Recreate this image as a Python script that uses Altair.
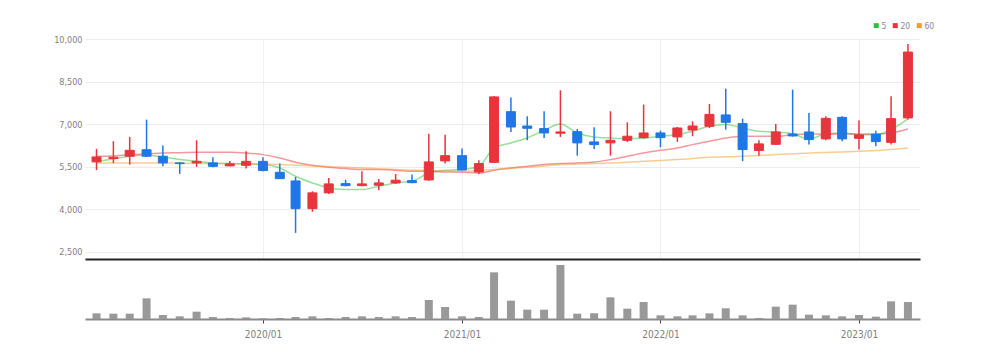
import altair as alt
import pandas as pd

months = [
    "2019-03-01", "2019-04-01", "2019-05-01", "2019-06-01", "2019-07-01", "2019-08-01",
    "2019-09-01", "2019-10-01", "2019-11-01", "2019-12-01",
    "2020-01-01", "2020-02-01", "2020-03-01", "2020-04-01", "2020-05-01", "2020-06-01",
    "2020-07-01", "2020-08-01", "2020-09-01", "2020-10-01", "2020-11-01", "2020-12-01",
    "2021-01-01", "2021-02-01", "2021-03-01", "2021-04-01", "2021-05-01", "2021-06-01",
    "2021-07-01", "2021-08-01", "2021-09-01", "2021-10-01", "2021-11-01", "2021-12-01",
    "2022-01-01", "2022-02-01", "2022-03-01", "2022-04-01", "2022-05-01", "2022-06-01",
    "2022-07-01", "2022-08-01", "2022-09-01", "2022-10-01", "2022-11-01", "2022-12-01",
    "2023-01-01", "2023-02-01", "2023-03-01", "2023-04-01",
]
open_ = [5670, 5790, 5870, 6100, 5870, 5635, 5635, 5635, 5530, 5550,
         5690, 5305, 5000, 4025, 4580, 4905, 4835, 4850, 4930, 5010, 5035, 5705,
         5890, 5315, 5655, 7440, 6935, 6845, 6680, 6735, 6375, 6340, 6430, 6525,
         6690, 6550, 6795, 6925, 7325, 7020, 6070, 6290, 6655, 6725, 6480, 7240,
         6500, 6645, 6360, 7220]
high = [6130, 6400, 6550, 7160, 6245, 5660, 6430, 5835, 5705, 6045,
        5835, 5610, 5140, 4635, 5105, 5045, 5340, 5070, 5245, 5225, 6665, 6630,
        6140, 5730, 7980, 7935, 7275, 7455, 8195, 6830, 6890, 7455, 7065, 7690,
        6770, 6900, 7100, 7710, 8250, 7195, 6430, 7005, 8215, 7395, 7275, 7275,
        7125, 6770, 7980, 9825]
low = [5380, 5630, 5575, 5845, 5515, 5250, 5495, 5480, 5515, 5435,
       5340, 5070, 3170, 3910, 4540, 4810, 4810, 4670, 4895, 4920, 5010, 5610,
       5365, 5245, 5635, 6725, 6430, 6515, 6550, 5890, 6125, 5890, 6375, 6490,
       6185, 6375, 6575, 6865, 6810, 5695, 5890, 6270, 6560, 6280, 6430, 6395,
       6105, 6220, 6280, 7160]
close = [5845, 5835, 6080, 5870, 5635, 5610, 5690, 5515, 5600, 5690,
         5365, 5080, 4025, 4580, 4895, 4835, 4895, 4930, 5025, 4940, 5670, 5890,
         5385, 5610, 7960, 6900, 6855, 6690, 6725, 6340, 6280, 6430, 6575, 6690,
         6525, 6865, 6935, 7345, 7065, 6105, 6305, 6725, 6585, 6455, 7205, 6480,
         6620, 6385, 7195, 9540]
volume = [17, 16, 16, 62, 12, 8, 22, 6, 3, 5,
          2, 3, 6, 8, 3, 6, 8, 6, 8, 6, 57, 36,
          8, 6, 140, 55, 28, 28, 162, 16, 17, 65, 31, 51,
          11, 8, 11, 17, 32, 11, 3, 37, 43, 13, 11, 8,
          12, 7, 53, 51]
ma5 = [5692, 5775, 5868, 5904, 5845, 5751, 5692, 5634, 5610, 5599,
       5575, 5458, 5164, 4930, 4754, 4695, 4695, 4812, 4930, 4988, 5282, 5376,
       5399, 5516, 6162, 6338, 6514, 6784, 7007, 6690, 6549, 6514, 6491, 6514,
       6573, 6631, 6749, 6925, 6984, 6866, 6749, 6725, 6655, 6479, 6655, 6690,
       6631, 6631, 6808, 7183]
ma20 = [5868, 5880, 5927, 5950, 5986, 5995, 6009, 6009, 6009, 5986,
        5927, 5810, 5657, 5552, 5481, 5434, 5399, 5399, 5376, 5340, 5340, 5317,
        5305, 5282, 5376, 5458, 5516, 5575, 5610, 5634, 5669, 5751, 5868, 5986,
        6080, 6162, 6279, 6397, 6514, 6573, 6573, 6573, 6631, 6655, 6655, 6655,
        6655, 6655, 6690, 6831]
ma60 = [5634, 5634, 5634, 5634, 5634, 5628, 5620, 5615, 5610, 5600,
        5590, 5575, 5552, 5530, 5505, 5480, 5458, 5430, 5399, 5380, 5364, 5350,
        5340, 5365, 5399, 5440, 5481, 5530, 5575, 5595, 5610, 5635, 5657, 5690,
        5716, 5751, 5790, 5833, 5850, 5868, 5898, 5927, 5955, 5986, 6005, 6021,
        6045, 6068, 6110, 6162]
ma_names = ["5", "20", "60"]
ma_colors = ["#2fbf3a", "#e8343c", "#f39a2e"]
y_ticks = [2500, 4000, 5500, 7000, 8500, 10000]

UP = "#e8343c"
DOWN = "#1f77e6"
FONT = "DejaVu Sans Condensed, Liberation Sans, sans-serif"

df = pd.DataFrame({"date": months, "open": open_, "high": high, "low": low,
                   "close": close, "vol": volume})
ma_df = pd.concat([
    pd.DataFrame({"date": months, "ma": name, "value": vals})
    for name, vals in zip(ma_names, [ma5, ma20, ma60])
])

xscale = alt.Scale(type="utc", domain=[
    alt.DateTime(year=2019, month=2, date=17, utc=True),
    alt.DateTime(year=2023, month=4, date=14, utc=True),
])
yearly = {"interval": "year", "step": 1}

x_price = alt.X("date:T", scale=xscale, axis=alt.Axis(
    title=None, labels=False, ticks=False, grid=True, gridColor="#efefef",
    domainColor="#222222", domainWidth=2, tickCount=yearly))
yscale = alt.Scale(domain=[2250, 10000], nice=False, zero=False)
y_axis = alt.Axis(title=None, values=y_ticks, format=",.0f", labelFont=FONT,
                  labelFontSize=9, labelColor="#808080", ticks=False, domain=False,
                  gridColor="#ececec", labelPadding=3, minExtent=40, maxExtent=40)

candle_color = alt.condition("datum.close >= datum.open", alt.value(UP), alt.value(DOWN))
base = alt.Chart(df)

lines = alt.Chart(ma_df).mark_line(strokeWidth=1.5, opacity=0.5, interpolate="monotone").encode(
    x=x_price,
    y=alt.Y("value:Q", scale=yscale, axis=y_axis),
    color=alt.Color("ma:N", sort=ma_names,
                    scale=alt.Scale(domain=ma_names, range=ma_colors),
                    legend=alt.Legend(title=None, orient="none", legendX=787, legendY=-18,
                                      direction="horizontal", symbolType="square",
                                      symbolSize=4, symbolStrokeWidth=3, symbolOpacity=1,
                                      labelFont=FONT, labelFontSize=8.5, labelColor="#888888",
                                      labelOffset=1, columnPadding=1, padding=0)),
)
wicks = base.mark_rule(strokeWidth=1.5).encode(
    x=x_price, y=alt.Y("low:Q", scale=yscale, axis=y_axis), y2="high:Q", color=candle_color)
bodies = base.mark_bar(size=9, strokeWidth=1).encode(
    x=x_price, y=alt.Y("open:Q", scale=yscale, axis=y_axis), y2="close:Q",
    color=candle_color, stroke=candle_color)

price = alt.layer(lines, wicks, bodies).properties(width=835, height=220)

vol = base.mark_bar(size=8, color="#999999").encode(
    x=alt.X("date:T", scale=xscale, axis=alt.Axis(
        title=None, format="%Y/%m", tickCount=yearly, grid=False,
        domainColor="#8a8a8a", domainWidth=2, tickColor="#444444", tickSize=4,
        labelFont=FONT, labelFontSize=10, labelColor="#808080", labelPadding=6)),
    y=alt.Y("vol:Q", scale=alt.Scale(domain=[0, 180]), axis=alt.Axis(
        title=None, labels=False, ticks=False, domain=False, grid=False,
        minExtent=40, maxExtent=40)),
).properties(width=835, height=60)

chart = alt.vconcat(price, vol, spacing=0).properties(
    padding={"left": 37, "top": 13, "right": 10, "bottom": 5}
).configure_view(stroke=None)

chart.save("out.html", embed_options={"renderer": "svg", "actions": False})
